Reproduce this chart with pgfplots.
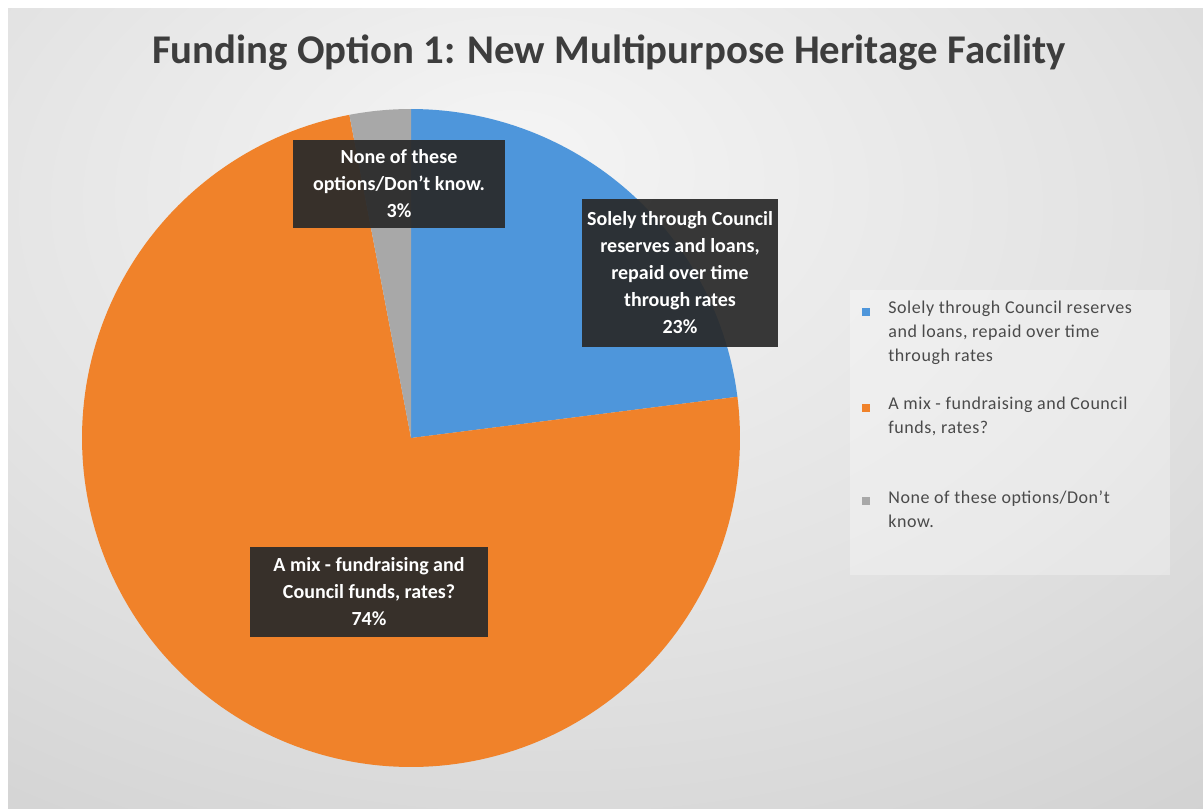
\documentclass[border=0pt]{standalone}
\usepackage{pgfplots}
\pgfplotsset{compat=1.18}
\usepackage{pgfplotstable}
\usepackage{fontspec}
\setmainfont{Carlito}
\definecolor{pblue}{HTML}{4E96DB}
\definecolor{porange}{HTML}{F0822A}
\definecolor{pgrey}{HTML}{A8A8A8}
\definecolor{titlec}{HTML}{3D3D3D}
\definecolor{legc}{HTML}{4A4A4A}
\definecolor{boxc}{HTML}{2A2A2A}
\pgfdeclareradialshading{bgshade}{\pgfpoint{-4bp}{16bp}}{color(0bp)=(white!96!black); color(25bp)=(white!89!black); color(45bp)=(white!82!black); color(70bp)=(white!78!black); color(100bp)=(white!77!black)}
\pgfplotstableread{
label value
Solely 23
Mix 74
None 3
}\piedata
\pgfplotstablegetelem{0}{value}\of\piedata \let\vA\pgfplotsretval
\pgfplotstablegetelem{1}{value}\of\piedata \let\vB\pgfplotsretval
\pgfplotstablegetelem{2}{value}\of\piedata \let\vC\pgfplotsretval
\pgfmathsetmacro{\aO}{90}
\pgfmathsetmacro{\aA}{\aO-3.6*\vA}
\pgfmathsetmacro{\aB}{\aA-3.6*\vB}
\pgfmathsetmacro{\aC}{\aB-3.6*\vC}
\newcommand{\lblfont}{\bfseries\fontsize{10}{13.5}\selectfont}
\newcommand{\legfont}{\fontsize{9}{12}\selectfont\addfontfeatures{LetterSpace=3}}
\begin{document}
\begin{tikzpicture}
\begin{axis}[scale only axis, width=601.5pt, height=404pt,
  xmin=0, xmax=1203, ymin=0, ymax=808, y dir=reverse,
  hide axis, clip=false]
\path[shading=bgshade] (axis cs:8,9) rectangle (axis cs:1203,808);
% legend box
\path[fill=white, fill opacity=0.3] (axis cs:850,290) rectangle (axis cs:1170,575);
% pie slices
\addplot[draw=none, fill=pblue, domain=\aO:\aA, samples=60] ({411+329*cos(x)},{438-329*sin(x)}) -- (axis cs:411,438) -- cycle;
\addplot[draw=none, fill=porange, domain=\aA:\aB, samples=180] ({411+329*cos(x)},{438-329*sin(x)}) -- (axis cs:411,438) -- cycle;
\addplot[draw=none, fill=pgrey, domain=\aB:\aC, samples=12] ({411+329*cos(x)},{438-329*sin(x)}) -- (axis cs:411,438) -- cycle;
% title
\node[text=titlec, font=\bfseries\fontsize{20.4}{25}\selectfont] at (axis cs:609,53) {Funding Option 1: New Multipurpose Heritage Facility};
% data labels
\node[fill=boxc, fill opacity=0.93, text opacity=1, text=white, minimum width=106pt, minimum height=44pt, align=center, inner sep=2pt, font=\lblfont] at (axis cs:399,184) {None of these\\options/Don't know.\\3\%};
\node[fill=boxc, fill opacity=0.93, text opacity=1, text=white, minimum width=98pt, minimum height=74pt, align=center, inner sep=2pt, font=\lblfont] at (axis cs:680,273) {Solely through Council\\reserves and loans,\\repaid over time\\through rates\\23\%};
\node[fill=boxc, fill opacity=0.93, text opacity=1, text=white, minimum width=119pt, minimum height=45pt, align=center, inner sep=2pt, font=\lblfont] at (axis cs:369,592) {A mix - fundraising and\\Council funds, rates?\\74\%};
% legend
\node[fill=pblue, minimum size=4pt, inner sep=0pt] at (axis cs:866,312) {};
\node[anchor=north west, text=legc, align=left, inner sep=0pt, font=\legfont] at (axis cs:888,301) {Solely through Council reserves\\and loans, repaid over time\\through rates};
\node[fill=porange, minimum size=4pt, inner sep=0pt] at (axis cs:866,408) {};
\node[anchor=north west, text=legc, align=left, inner sep=0pt, font=\legfont] at (axis cs:888,397) {A mix - fundraising and Council\\funds, rates?};
\node[fill=pgrey, minimum size=4pt, inner sep=0pt] at (axis cs:866,501) {};
\node[anchor=north west, text=legc, align=left, inner sep=0pt, font=\legfont] at (axis cs:888,490) {None of these options/Don't\\know.};
\end{axis}
\pgfresetboundingbox
\path (current axis.south west) rectangle (current axis.north east);
\end{tikzpicture}
\end{document}
